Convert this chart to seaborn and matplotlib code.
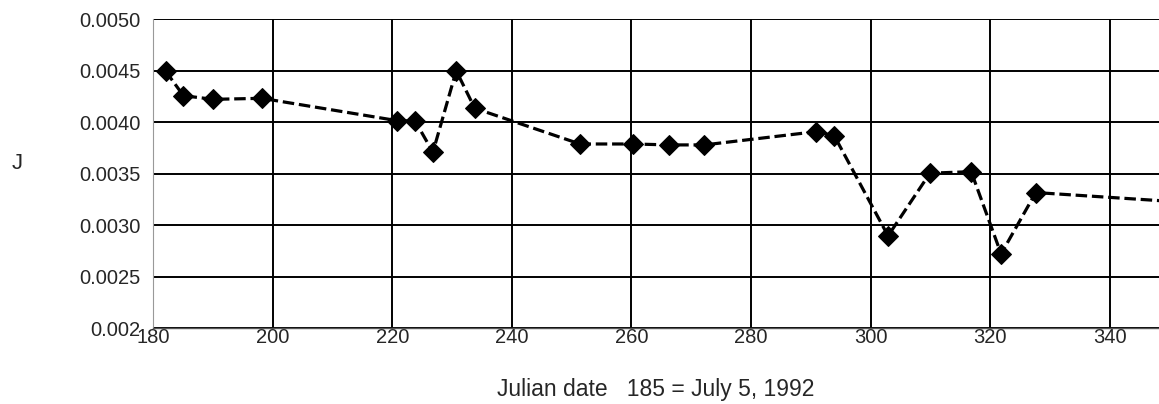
import matplotlib
matplotlib.use("Agg")
import matplotlib.pyplot as plt
import seaborn as sns
import numpy as np
import pandas as pd

julian_day = [182.1, 185.1, 190.1, 198.2, 220.8, 223.8, 226.8, 230.7, 233.8, 251.4,
              260.3, 266.3, 272.2, 290.9, 293.9, 302.9, 309.9, 316.8, 321.8, 327.6, 360]
j_values = [0.004498, 0.004258, 0.004223, 0.004233, 0.004016, 0.004016, 0.003709,
            0.004501, 0.004136, 0.003789, 0.003789, 0.003780, 0.003780, 0.003909,
            0.003870, 0.002896, 0.003505, 0.003520, 0.002721, 0.003317, 0.003194]
x_ticks = [180, 200, 220, 240, 260, 280, 300, 320, 340]
y_ticks = [0.002, 0.0025, 0.0030, 0.0035, 0.0040, 0.0045, 0.0050]
y_tick_labels = ["0.002", "0.0025", "0.0030", "0.0035", "0.0040", "0.0045", "0.0050"]

sns.set_theme(style="white")
plt.rcParams['font.family'] = ['Liberation Sans', 'DejaVu Sans']

df = pd.DataFrame({"day": julian_day, "J": j_values})

fig = plt.figure(figsize=(11.59, 4.04), dpi=100)
ax = fig.add_axes([0.132, 0.188, 0.868, 0.764])

sns.lineplot(data=df, x="day", y="J", ax=ax, color="black", linestyle=(0, (3.6, 1.5)),
             linewidth=2.3, marker="D", markersize=10, markeredgecolor="black",
             markerfacecolor="black", sort=False, clip_on=True)

ax.set_xlim(180, 348.2)
ax.set_ylim(0.002, 0.0050)
ax.set_xticks(x_ticks)
ax.set_xticklabels([str(t) for t in x_ticks], fontsize=14.5)
ax.set_yticks(y_ticks)
ax.set_yticklabels(y_tick_labels, fontsize=14.5)
ax.tick_params(axis="both", length=0)
ax.tick_params(axis="y", pad=9)
ax.tick_params(axis="x", pad=0)

ax.grid(True, color="black", linewidth=1.4)
ax.set_axisbelow(True)
for s in ["top", "right"]:
    ax.spines[s].set_visible(False)
ax.spines["left"].set_color("#999999")
ax.spines["left"].set_linewidth(0.8)
ax.spines["bottom"].set_color("#555555")
ax.spines["bottom"].set_linewidth(1.0)

ax.set_ylabel("J", fontsize=16, rotation=0, labelpad=0)
ax.yaxis.set_label_coords(-0.135, 0.5)
ax.set_xlabel("Julian date   185 = July 5, 1992", fontsize=16.5, labelpad=22)

fig.savefig("out.png", dpi=100)
